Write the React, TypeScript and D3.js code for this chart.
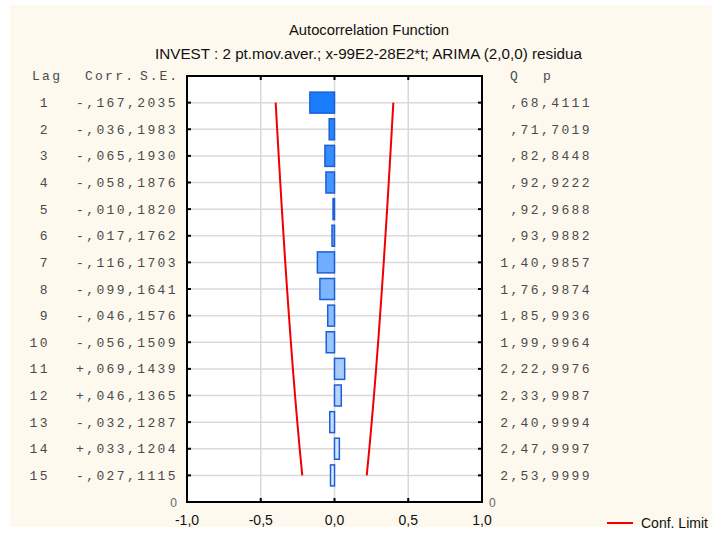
import React from "react";
import * as d3 from "d3";

const lags = [1, 2, 3, 4, 5, 6, 7, 8, 9, 10, 11, 12, 13, 14, 15];
const corr = [-0.167, -0.036, -0.065, -0.058, -0.010, -0.017, -0.116, -0.099, -0.046, -0.056, 0.069, 0.046, -0.032, 0.033, -0.027];
const se = [0.2035, 0.1983, 0.1930, 0.1876, 0.1820, 0.1762, 0.1703, 0.1641, 0.1576, 0.1509, 0.1439, 0.1365, 0.1287, 0.1204, 0.1115];
const qStat = [0.68, 0.71, 0.82, 0.92, 0.92, 0.93, 1.40, 1.76, 1.85, 1.99, 2.22, 2.33, 2.40, 2.47, 2.53];
const pVal = [0.4111, 0.7019, 0.8448, 0.9222, 0.9688, 0.9882, 0.9857, 0.9874, 0.9936, 0.9964, 0.9976, 0.9987, 0.9994, 0.9997, 0.9999];
const xTicks = [-1, -0.5, 0, 0.5, 1];
const title = "Autocorrelation Function";
const subtitle = "INVEST  : 2 pt.mov.aver.; x-99E2-28E2*t; ARIMA (2,0,0) residua";

const W = 712, H = 537;
const L = 187, R = 482, T = 76, B = 502;
const CH = 10.2; // mono char advance
const MONO = "'Liberation Mono', 'Courier New', monospace";
const SANS = "'Liberation Sans', Arial, sans-serif";
const MONO_FILL = "#4a4a4a";

const fmtFrac = (v: number, d: number) => {
  const s = Math.abs(v).toFixed(d);
  const [i, f] = s.split(".");
  return (i === "0" ? "" : i) + "," + f;
};

function Mono({ right, y, text }: { right: number; y: number; text: string }) {
  const n = text.length;
  return (
    <text x={right - n * CH} y={y} fontFamily={MONO} fontSize={13} fill={MONO_FILL}
      textLength={n * CH - 2.4} lengthAdjust="spacing">{text}</text>
  );
}

function Head({ x, y, w, text }: { x: number; y: number; w: number; text: string }) {
  return (
    <text x={x} y={y} fontFamily={MONO} fontSize={13} fill={MONO_FILL}
      textLength={w} lengthAdjust="spacing">{text}</text>
  );
}

export default function App() {
  const x = d3.scaleLinear().domain([-1, 1]).range([L, R]);
  const y = d3.scaleLinear().domain([0, 16]).range([B, T]);
  const yl = (lag: number) => y(16 - lag);
  const col = d3.interpolateRgb("#1a7cff", "#e0efff");
  const barH = 21;
  const upper = d3.line<number>().x((_, i) => x(1.96 * se[i])).y((d) => yl(d));
  const lower = d3.line<number>().x((_, i) => x(-1.96 * se[i])).y((d) => yl(d));

  return (
    <svg width={W} height={H} style={{ position: "absolute", left: 0, top: 0 }}>
      <rect x={0} y={0} width={W} height={H} fill="#ffffff" />
      <rect x={10} y={5} width={W - 10} height={522} fill="#fdf9ef" />
      <text x={369} y={35} textAnchor="middle" fontFamily={SANS} fontSize={14} fill="#111"
        textLength={160} lengthAdjust="spacingAndGlyphs">{title}</text>
      <text x={155} y={59} fontFamily={SANS} fontSize={14} fill="#111"
        textLength={427} lengthAdjust="spacingAndGlyphs">{subtitle}</text>

      <rect x={L} y={T} width={R - L} height={B - T} fill="#ffffff" />
      {lags.map((l) => (
        <line key={"h" + l} x1={L} x2={R} y1={yl(l)} y2={yl(l)} stroke="#d9d9d9" strokeWidth={1.5} />
      ))}
      {xTicks.slice(1, -1).map((t) => (
        <line key={"v" + t} x1={x(t)} x2={x(t)} y1={T} y2={B} stroke="#d9d9d9" strokeWidth={1.5} />
      ))}
      {lags.map((l, i) => {
        const x0 = x(Math.min(0, corr[i]));
        const x1 = x(Math.max(0, corr[i]));
        return (
          <rect key={"b" + l} x={x0} y={yl(l) - barH / 2} width={Math.max(x1 - x0, 1)} height={barH}
            fill={col(i / (lags.length - 1))} stroke="#1f5fd6" strokeWidth={1.5} />
        );
      })}
      <path d={upper(lags) || ""} fill="none" stroke="#f00000" strokeWidth={2} />
      <path d={lower(lags) || ""} fill="none" stroke="#f00000" strokeWidth={2} />

      {/* frame & ticks */}
      <rect x={L} y={T} width={R - L} height={B - T} fill="none" stroke="#000" strokeWidth={2} />
      {lags.map((l) => (
        <g key={"t" + l}>
          <line x1={L} x2={L + 4} y1={yl(l)} y2={yl(l)} stroke="#000" strokeWidth={2} />
          <line x1={R - 4} x2={R} y1={yl(l)} y2={yl(l)} stroke="#000" strokeWidth={2} />
        </g>
      ))}
      {xTicks.slice(1, -1).map((t) => (
        <g key={"xt" + t}>
          <line x1={x(t)} x2={x(t)} y1={T} y2={T + 4} stroke="#000" strokeWidth={2} />
          <line x1={x(t)} x2={x(t)} y1={B - 4} y2={B} stroke="#000" strokeWidth={2} />
        </g>
      ))}
      {xTicks.map((t) => (
        <text key={"xl" + t} x={x(t)} y={525} textAnchor="middle" fontFamily={SANS} fontSize={14} fill="#111">
          {t.toFixed(1).replace(".", ",")}
        </text>
      ))}
      <text x={177} y={507} textAnchor="end" fontFamily={SANS} fontSize={12} fill="#666">0</text>
      <text x={489} y={507} fontFamily={SANS} fontSize={12} fill="#666">0</text>

      {/* table columns */}
      <Head x={32} y={80} w={28} text="Lag" />
      <Head x={85} y={80} w={48} text="Corr." />
      <Head x={140} y={80} w={37} text="S.E." />
      <Head x={510} y={80} w={8} text="Q" />
      <Head x={543} y={80} w={7} text="p" />
      {lags.map((l, i) => (
        <g key={"r" + l}>
          <Mono right={50} y={yl(l) + 4.5} text={String(l)} />
          <Mono right={178} y={yl(l) + 4.5}
            text={(corr[i] < 0 ? "-" : "+") + fmtFrac(corr[i], 3) + fmtFrac(se[i], 4)} />
          <Mono right={592} y={yl(l) + 4.5} text={fmtFrac(qStat[i], 2) + fmtFrac(pVal[i], 4)} />
        </g>
      ))}

      {/* legend */}
      <line x1={607} x2={633} y1={523} y2={523} stroke="#f00000" strokeWidth={2} />
      <text x={641} y={528} fontFamily={SANS} fontSize={14} fill="#111">Conf. Limit</text>
    </svg>
  );
}
